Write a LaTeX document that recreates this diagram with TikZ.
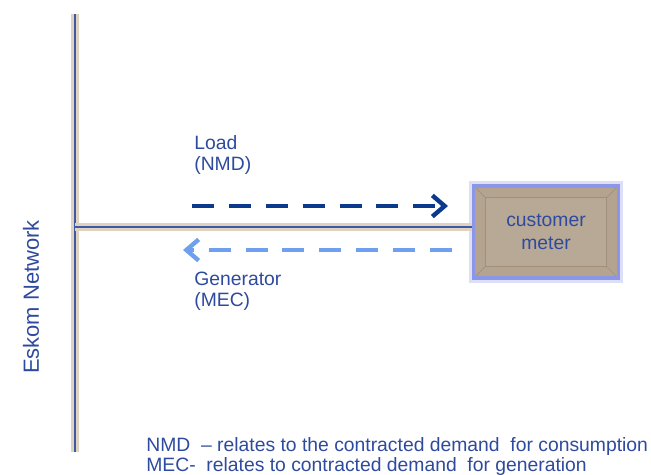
\documentclass[tikz,border=0pt]{standalone}
\usepackage{fontspec}
\setmainfont{Liberation Sans}
\usetikzlibrary{arrows.meta,positioning,calc}
\definecolor{BusBlue}{HTML}{3A5BA8}
\definecolor{BusShade}{HTML}{E0D2BE}
\definecolor{LoadBlue}{HTML}{0B3A8C}
\definecolor{GenBlue}{HTML}{6FA0F0}
\definecolor{MeterTan}{HTML}{B3A38F}
\definecolor{MeterEdge}{HTML}{A0907C}
\definecolor{MeterGlow}{HTML}{8C96E6}
\definecolor{LabelBlue}{HTML}{2E4A9E}

\begin{document}
\begin{tikzpicture}[x=0.02cm,y=-0.02cm,
      bus/.style={line width=1.5pt,BusBlue,preaction={draw=BusShade,line width=4.5pt}},
      flow/.style={line width=2.5pt,dash pattern=on 12.5pt off 8.5pt,
                   -{Straight Barb[length=7pt,width=12pt,line width=2.5pt]}},
      lbl/.style={text=LabelBlue,font=\fontsize{11}{12}\selectfont,align=left,inner sep=0pt},
      meter/.style={draw=MeterGlow,line width=2pt,fill=MeterTan,
                    preaction={draw=MeterGlow!30,line width=5pt},
                    minimum width=2.9cm,minimum height=1.85cm,
                    text=LabelBlue,align=center,font=\fontsize{11}{13}\selectfont,
                    path picture={
                      \draw[MeterEdge,line width=0.4pt,fill=MeterTan!94!white]
                        ($(path picture bounding box.north west)+(12,12)$) rectangle
                        ($(path picture bounding box.south east)+(-12,-12)$);
                      \foreach \c/\dx/\dy in {north west/12/12,north east/-12/12,
                                              south west/12/-12,south east/-12/-12}
                        \draw[MeterEdge,line width=0.4pt]
                          (path picture bounding box.\c) -- ++(\dx,\dy);
                    }},
    ]
    \useasboundingbox (0,0) rectangle (651,474);

    % network bus
    \coordinate (busTop) at (75,14);
    \coordinate (busBot) at (75,452);
    \coordinate (tap)    at (75,227);
    \draw[bus] (busTop) -- (busBot);
    \node[lbl,font=\fontsize{12.5}{14}\selectfont,rotate=90] (net) at (31,297) {Eskom Network};

    % customer side
    \node[meter] (meter) at (546,232) {customer\\meter};
    \draw[bus] (tap) -- (tap -| meter.west);

    % power flows
    \coordinate (loadStart) at (192,206);
    \coordinate (loadEnd)   at (448,206);
    \coordinate (genStart)  at (452,250);
    \coordinate (genEnd)    at (183,250);
    \draw[flow,LoadBlue] (loadStart) -- (loadEnd);
    \draw[flow,GenBlue]  (genStart) -- (genEnd);
    \node[lbl,anchor=north west] (loadLbl) at (194,135) {Load\\(NMD)};
    \node[lbl,anchor=north west] (genLbl)  at (194,272) {Generator\\(MEC)};

    % notes
    \node[lbl,anchor=north west,font=\fontsize{11}{9.4}\selectfont] (notes) at (146,437)
      {NMD\ \ -- relates to the contracted demand\ \ for consumption\\
       MEC-\ \ relates to\ contracted demand\ \ for generation};
  \end{tikzpicture}
\end{document}
